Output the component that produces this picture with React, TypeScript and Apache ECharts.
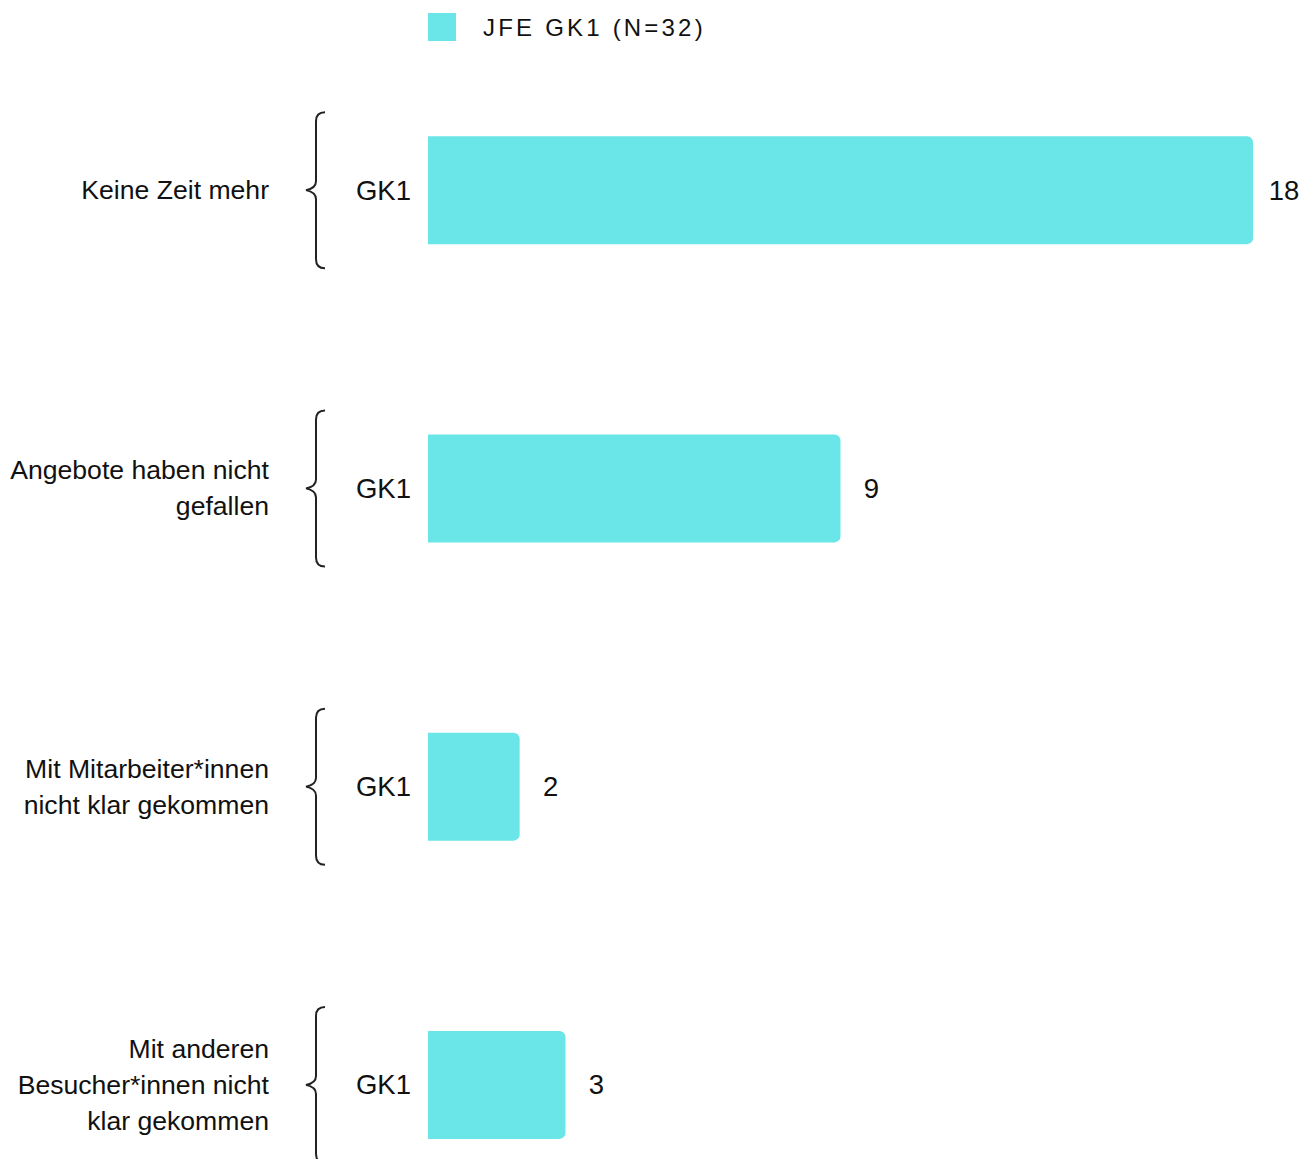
import React, { useEffect, useRef } from "react";
import * as echarts from "echarts";

const categories = [
  "Keine Zeit mehr",
  "Angebote haben nicht\ngefallen",
  "Mit Mitarbeiter*innen\nnicht klar gekommen",
  "Mit anderen\nBesucher*innen nicht\nklar gekommen",
];
const groupLabel = "GK1";
const seriesName = "JFE GK1 (N=32)";
const values = [18, 9, 2, 3];

const BAR_COLOR = "#6ae5e8";
const TEXT_COLOR = "#111111";
const FONT = "'Liberation Sans', Arial, sans-serif";
const LEGEND_FONT = "'Liberation Sans', Arial, sans-serif, legendfont";

export default function App() {
  const ref = useRef<HTMLDivElement>(null);
  useEffect(() => {
    document.body.style.margin = "0";
    document.body.style.overflow = "hidden";
    const chart = echarts.init(ref.current!, null, { renderer: "svg" });
    chart.setOption({
      animation: false,
      backgroundColor: "#ffffff",
      textStyle: { fontFamily: FONT },
      legend: {
        top: 13,
        left: 428,
        padding: 0,
        icon: "rect",
        itemWidth: 28,
        itemHeight: 28,
        data: [seriesName],
        textStyle: {
          fontSize: 24,
          color: TEXT_COLOR,
          fontFamily: LEGEND_FONT,
          padding: [0, 0, 0, 22],
        },
      },
      grid: { left: 428, right: 60, top: 41, bottom: 6, containLabel: false },
      xAxis: { type: "value", min: 0, max: 18, show: false },
      yAxis: [
        {
          type: "category",
          data: categories,
          inverse: true,
          axisLine: { show: false },
          axisTick: { show: false },
          splitLine: { show: false },
          axisLabel: {
            formatter: () => groupLabel,
            fontSize: 27.5,
            color: TEXT_COLOR,
            fontFamily: FONT,
            margin: 17,
          },
        },
        {
          type: "category",
          data: categories,
          inverse: true,
          position: "left",
          offset: 151,
          axisLine: { show: false },
          axisTick: { show: false },
          splitLine: { show: false },
          axisLabel: {
            fontSize: 26.6,
            lineHeight: 36,
            color: TEXT_COLOR,
            fontFamily: FONT,
            margin: 8,
            align: "right",
          },
        },
      ],
      series: [
        {
          name: seriesName,
          type: "bar",
          yAxisIndex: 0,
          data: values,
          barWidth: 108,
          itemStyle: { color: BAR_COLOR, borderRadius: [0, 6, 6, 0] },
          label: {
            show: true,
            position: "right",
            distance: 31,
            align: "center",
            fontSize: 27.5,
            color: TEXT_COLOR,
            fontFamily: FONT,
          },
        },
        {
          name: "braces",
          type: "custom",
          yAxisIndex: 0,
          clip: false,
          silent: true,
          data: categories.map((_, i) => [0, i]),
          encode: { x: 0, y: 1 },
          renderItem: (params: any, api: any) => {
            const p = api.coord([0, api.value(1)]);
            const x = p[0] - 112;
            const y = p[1];
            const h = 78;
            const d =
              `M ${x + 9} ${y - h} Q ${x} ${y - h} ${x} ${y - h + 9} ` +
              `L ${x} ${y - 9} Q ${x} ${y - 2} ${x - 10} ${y} ` +
              `Q ${x} ${y + 2} ${x} ${y + 9} ` +
              `L ${x} ${y + h - 9} Q ${x} ${y + h} ${x + 9} ${y + h}`;
            return {
              type: "path",
              shape: { pathData: d },
              style: { fill: "none", stroke: "#222222", lineWidth: 2 },
            };
          },
        },
      ],
    });
    return () => chart.dispose();
  }, []);
  return (
    <>
      <style>{`text[style*="legendfont"], text[font-family*="legendfont"] { letter-spacing: 3.2px; }`}</style>
      <div ref={ref} style={{ width: 1313, height: 1240 }} />
    </>
  );
}
